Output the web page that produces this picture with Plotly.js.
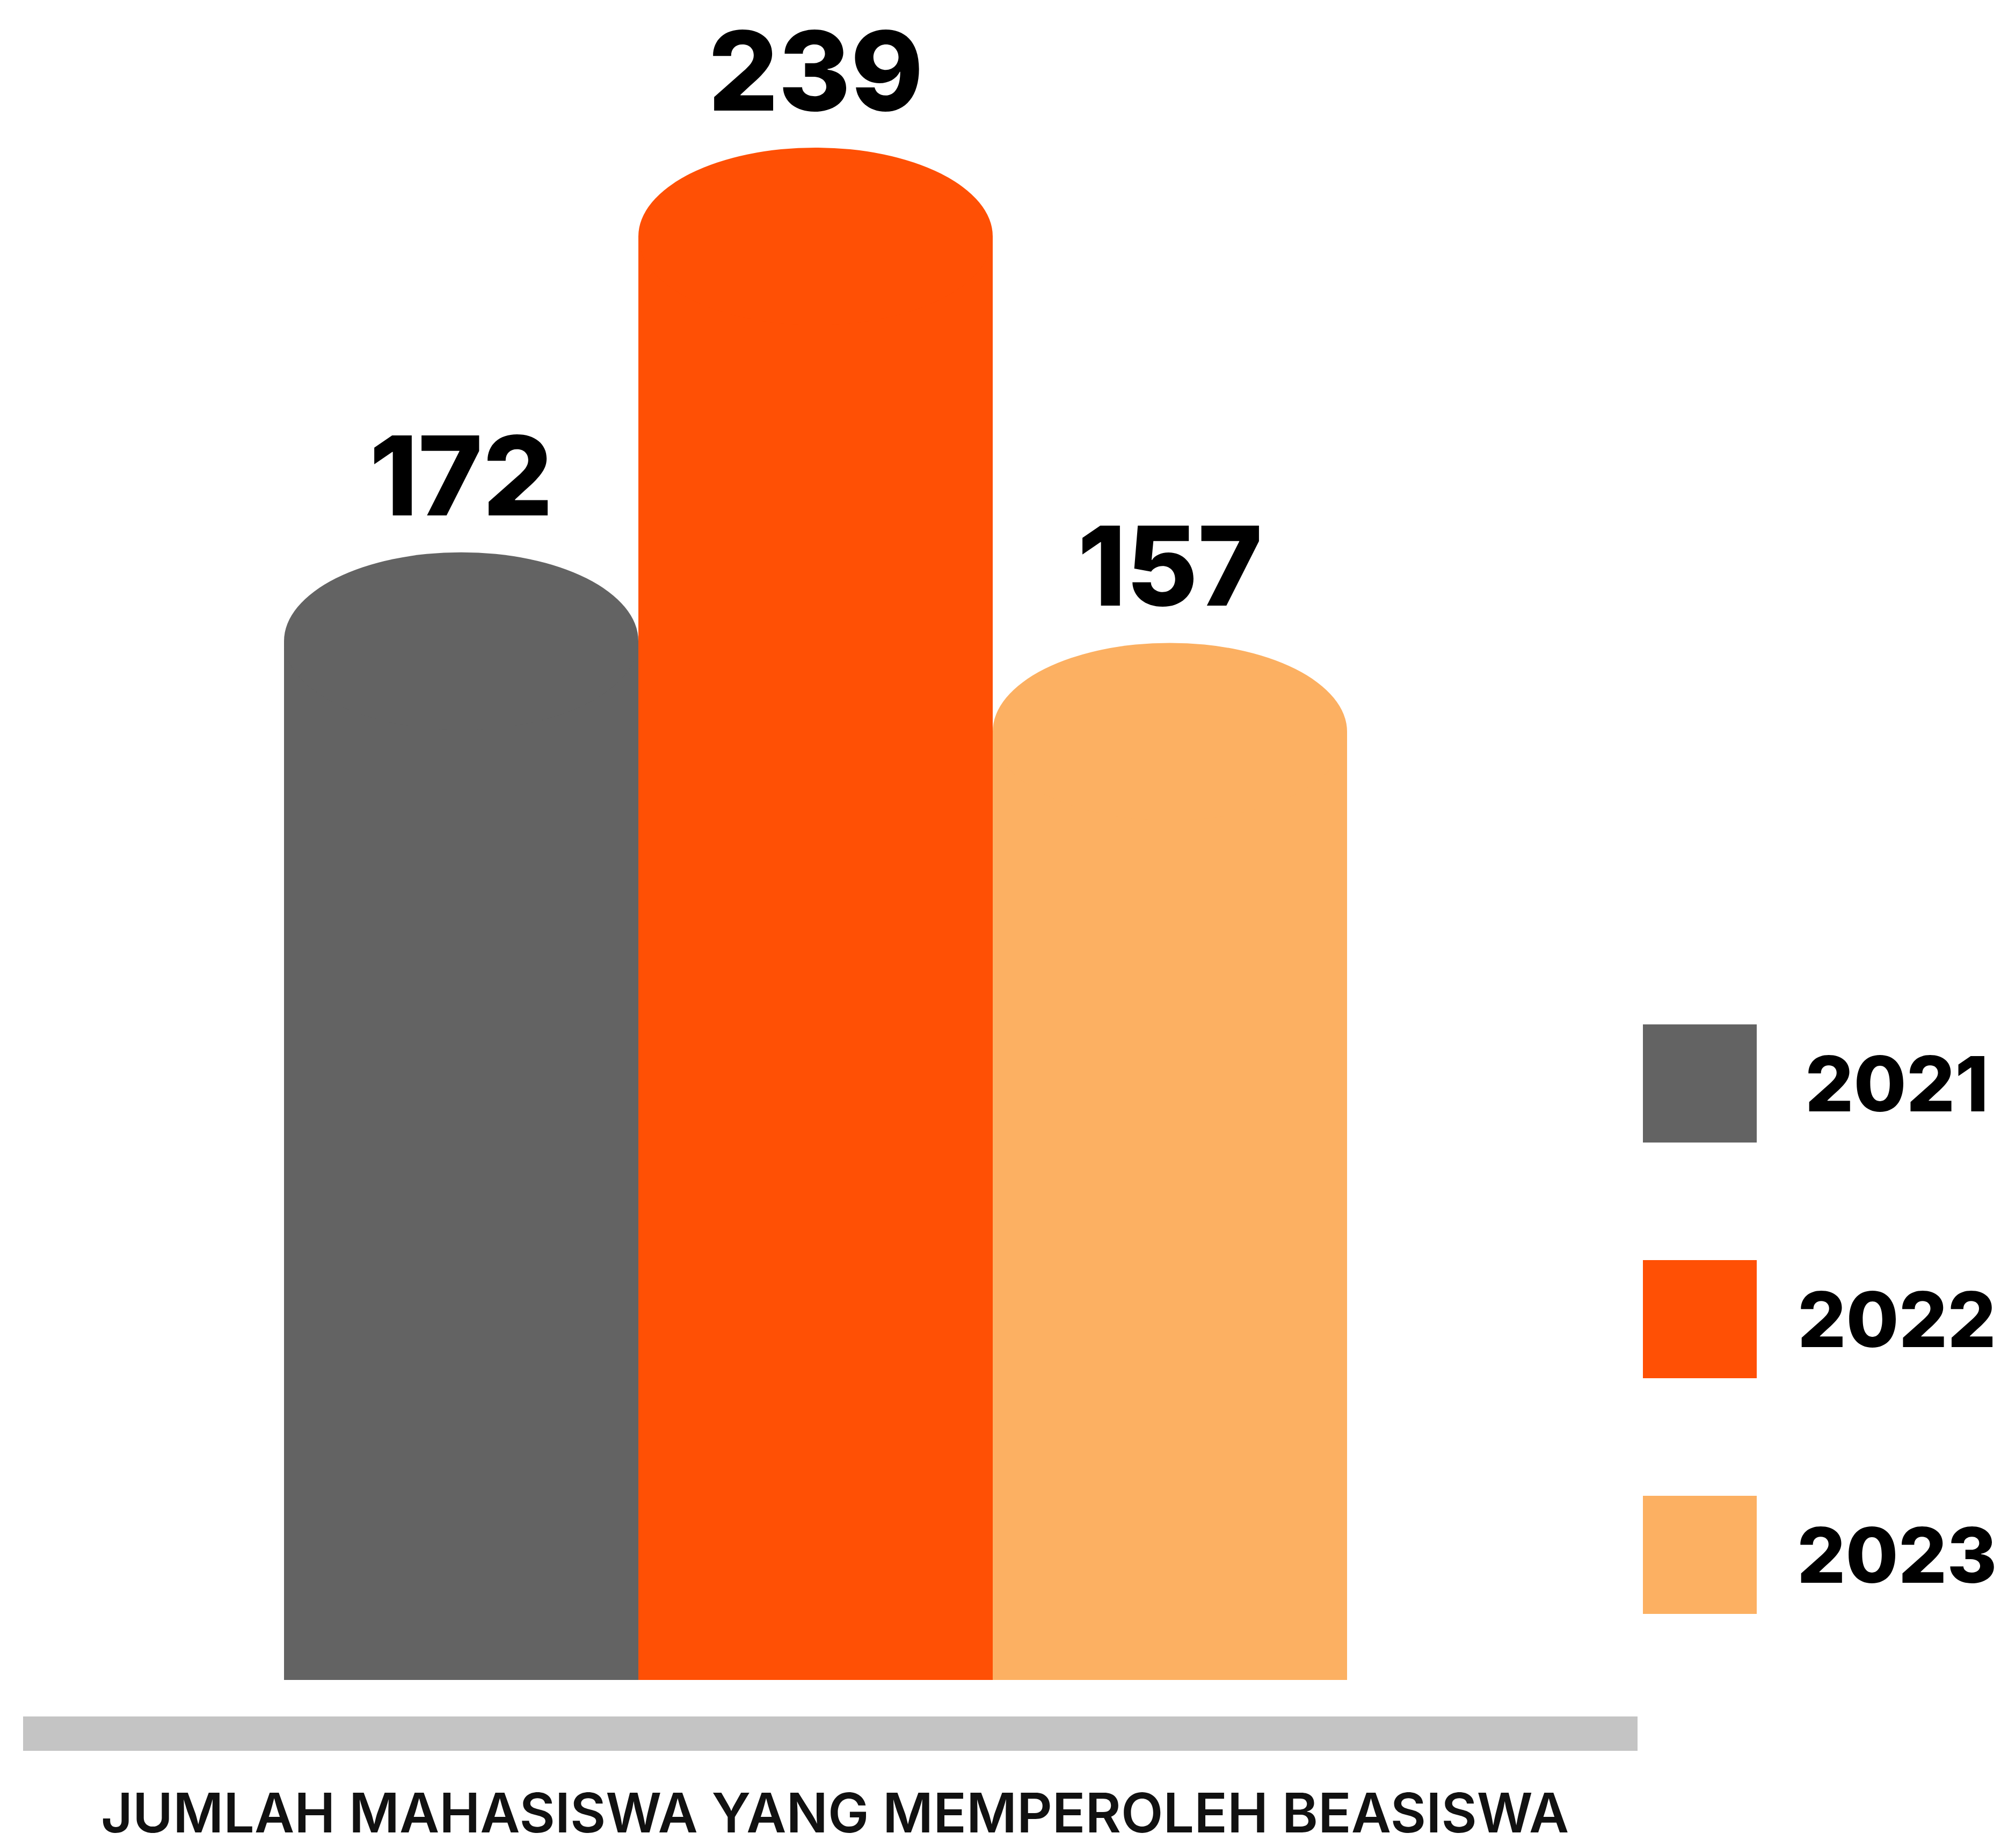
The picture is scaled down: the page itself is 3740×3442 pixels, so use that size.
<!DOCTYPE html>
<html>
<head>
<meta charset="utf-8">
<script src="https://cdn.plot.ly/plotly-3.0.1.min.js"></script>
<style>
  html, body { margin: 0; padding: 0; background: #ffffff; }
  #chart { width: 3740px; height: 3442px; }
</style>
</head>
<body>
<div id="chart"></div>
<script>
// ---- data ----
const years = ['2021', '2022', '2023'];
const counts = [172, 239, 157];
const colors = ['#636363', '#FF5005', '#FCB062'];
const chartTitle = 'JUMLAH MAHASISWA YANG MEMPEROLEH BEASISWA';

// ---- style constants ----
const W = 3740, H = 3442;
const DOME = 14.7;              // half-height of the rounded bar top, in data units
const FONT = 'Inter, "Open Sans", "DejaVu Sans", sans-serif';
const XDOM = [529 / W, 2509 / W];
const YDOM = [1 - 3129 / H, 1];
const YMAX = 3129 / 11.25;

// data -> paper helpers (same mapping as the axes below)
const xPaper = i => XDOM[0] + (i + 0.5) / years.length * (XDOM[1] - XDOM[0]);
const yPaper = v => YDOM[0] + v / YMAX * (YDOM[1] - YDOM[0]);

const traces = years.map((yr, i) => ({
  type: 'bar',
  x: [yr],
  y: [counts[i]],
  name: yr,
  marker: { color: colors[i], line: { width: 0 } },
  showlegend: false,
  hoverinfo: 'none'
}));

const shapes = [];
const annotations = [];

// rounded (elliptical) tops of each bar, tied to the data axes
years.forEach((yr, i) => {
  shapes.push({
    type: 'circle', xref: 'x', yref: 'y',
    x0: i - 0.5, x1: i + 0.5,
    y0: counts[i] - DOME, y1: counts[i] + DOME,
    fillcolor: colors[i], line: { width: 0 }, layer: 'above'
  });
  annotations.push({
    x: xPaper(i), y: yPaper(counts[i] + DOME), xref: 'paper', yref: 'paper',
    text: String(counts[i]), showarrow: false,
    yanchor: 'bottom', xanchor: 'center', yshift: 18,
    font: { family: FONT, size: 205, weight: 800, color: '#000000' }
  });
});

// grey floor strip
shapes.push({
  type: 'rect', xref: 'paper', yref: 'paper',
  x0: 43 / W, x1: 3050 / W, y0: 1 - 3261 / H, y1: 1 - 3197 / H,
  fillcolor: '#C4C4C4', line: { width: 0 }
});

// legend (squares + labels)
years.forEach((yr, i) => {
  const cy = 2018 + i * 439;
  shapes.push({
    type: 'rect', xref: 'paper', yref: 'paper',
    x0: 3060 / W, x1: 3272 / W,
    y0: 1 - (cy + 110) / H, y1: 1 - (cy - 110) / H,
    fillcolor: colors[i], line: { width: 0 }
  });
  annotations.push({
    x: 3533 / W, y: 1 - cy / H, xref: 'paper', yref: 'paper',
    text: yr, showarrow: false, xanchor: 'center', yanchor: 'middle',
    font: { family: FONT, size: 142, weight: 800, color: '#000000' }
  });
});

// bottom caption
annotations.push({
  x: 1555 / W, y: 1 - 3376 / H, xref: 'paper', yref: 'paper',
  text: chartTitle, showarrow: false, xanchor: 'center', yanchor: 'middle',
  font: { family: FONT, size: 102, weight: 600, color: '#111111' }
});

const layout = {
  width: W, height: H,
  margin: { l: 0, r: 0, t: 0, b: 0, pad: 0 },
  paper_bgcolor: '#ffffff', plot_bgcolor: '#ffffff',
  barmode: 'overlay', bargap: 0,
  xaxis: {
    type: 'category', categoryorder: 'array', categoryarray: years,
    range: [-0.5, 2.5], domain: XDOM,
    visible: false, fixedrange: true
  },
  yaxis: {
    range: [0, YMAX], domain: YDOM,
    visible: false, fixedrange: true
  },
  shapes: shapes,
  annotations: annotations,
  showlegend: false
};

Plotly.newPlot('chart', traces, layout, { displayModeBar: false, staticPlot: true });
</script>
</body>
</html>
